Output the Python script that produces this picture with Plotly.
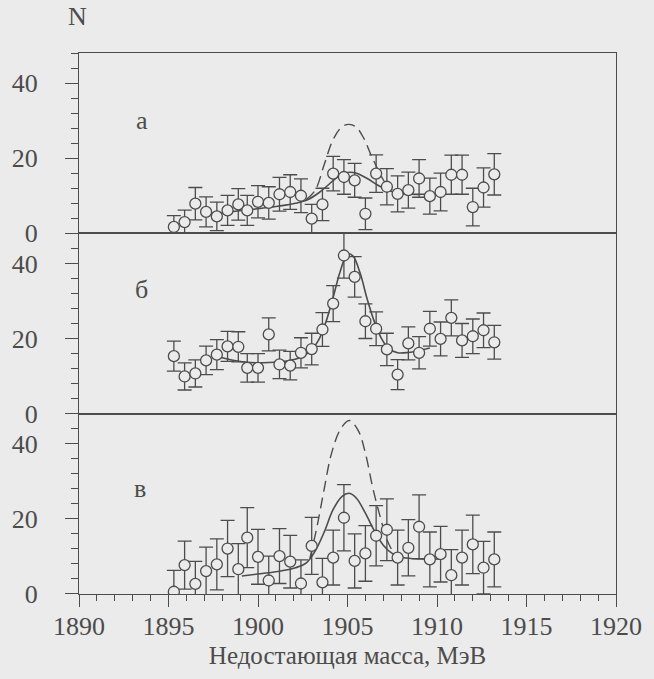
import plotly.graph_objects as go
from plotly.subplots import make_subplots

# ---------------- data ----------------
mass = [1895.3, 1895.9, 1896.5, 1897.1, 1897.7, 1898.3, 1898.9, 1899.4, 1900.0, 1900.6,
        1901.2, 1901.8, 1902.4, 1903.0, 1903.6, 1904.2, 1904.8, 1905.4, 1906.0, 1906.6,
        1907.2, 1907.8, 1908.4, 1909.0, 1909.6, 1910.2, 1910.8, 1911.4, 1912.0, 1912.6, 1913.2]

# panel "а"
counts_a = [1.7, 3.0, 7.9, 5.7, 4.5, 6.1, 7.7, 6.1, 8.4, 8.1,
            10.4, 11.0, 10.0, 3.9, 7.7, 15.9, 15.0, 14.1, 5.2, 15.9,
            12.4, 10.5, 11.5, 14.6, 9.9, 11.0, 15.6, 15.6, 7.0, 12.2, 15.7]
err_a = [3.0, 3.2, 4.3, 4.0, 3.8, 4.0, 4.2, 4.0, 4.3, 4.3,
         4.5, 4.6, 4.5, 3.8, 4.3, 4.6, 4.6, 4.5, 4.2, 5.0,
         4.8, 4.8, 4.8, 5.0, 4.8, 5.0, 5.2, 5.2, 5.0, 5.2, 5.5]
fit_a_x = [1897.1, 1898.1, 1899.1, 1900.1, 1901.1, 1902.1, 1902.8, 1903.4, 1904.0, 1904.5,
           1905.0, 1905.5, 1906.1, 1906.7, 1907.3, 1907.9, 1908.6, 1909.3, 1910.2]
fit_a_y = [4.8, 5.5, 6.1, 6.6, 7.2, 8.0, 9.0, 10.8, 13.2, 15.2,
           16.2, 16.0, 14.6, 12.8, 11.4, 10.7, 10.4, 10.4, 10.5]
dash_a_x = [1902.7, 1903.2, 1903.7, 1904.2, 1904.7, 1905.1, 1905.5, 1905.9, 1906.3, 1906.7, 1907.1, 1907.5]
dash_a_y = [9.0, 11.5, 18.3, 25.0, 28.4, 29.0, 28.2, 25.4, 21.0, 17.0, 13.5, 11.5]

# panel "б"
counts_b = [15.3, 9.9, 10.7, 14.2, 15.7, 17.9, 17.8, 12.2, 12.2, 21.1,
            13.1, 12.8, 16.2, 17.2, 22.4, 29.3, 42.1, 36.4, 24.6, 22.6,
            17.1, 10.4, 18.7, 16.2, 22.6, 19.9, 25.5, 19.5, 20.6, 22.2, 19.0]
err_b = [4.0, 3.6, 3.6, 3.8, 4.0, 4.0, 4.0, 3.8, 3.8, 4.4,
         3.8, 3.8, 4.0, 4.2, 4.5, 4.8, 6.0, 5.4, 4.6, 4.5,
         4.3, 4.0, 4.4, 4.3, 4.6, 4.5, 4.8, 4.5, 4.6, 4.6, 4.5]
fit_b_x = [1897.9, 1898.6, 1899.6, 1900.6, 1901.6, 1902.4, 1903.0, 1903.4, 1903.8, 1904.2,
           1904.6, 1905.0, 1905.3, 1905.7, 1906.1, 1906.5, 1906.9, 1907.3, 1907.8, 1908.4,
           1909.1, 1909.6]
fit_b_y = [15.0, 14.2, 13.6, 13.6, 14.0, 15.0, 17.0, 19.7, 24.5, 31.0,
           38.0, 42.5, 42.0, 37.5, 30.5, 24.5, 20.0, 17.3, 16.2, 16.3,
           16.9, 17.5]

# panel "в"
counts_c = [0.6, 7.7, 2.7, 6.1, 7.9, 12.1, 6.6, 15.0, 9.9, 3.6,
            10.1, 8.6, 2.8, 12.8, 3.1, 9.7, 20.3, 8.8, 10.8, 15.5,
            17.1, 9.7, 12.3, 17.9, 9.2, 10.6, 5.0, 9.7, 13.2, 7.0, 9.2]
err_c = [5.7, 6.4, 6.0, 6.4, 6.8, 7.5, 6.8, 8.0, 7.3, 6.5,
         7.3, 7.0, 6.3, 7.6, 6.4, 7.3, 8.8, 7.2, 7.4, 8.0,
         8.2, 7.3, 7.5, 8.5, 7.3, 7.4, 6.8, 7.3, 7.8, 7.0, 7.3]
fit_c_x = [1899.1, 1900.1, 1901.1, 1902.1, 1902.7, 1903.2, 1903.7, 1904.2, 1904.7, 1905.1,
           1905.5, 1906.0, 1906.5, 1907.0, 1907.5, 1908.1, 1909.1, 1910.2]
fit_c_y = [4.8, 5.4, 6.0, 7.0, 8.3, 11.5, 16.5, 22.5, 26.0, 26.8,
           25.5, 21.5, 16.8, 13.0, 10.8, 9.7, 9.3, 9.3]
dash_c_x = [1902.9, 1903.3, 1903.7, 1904.1, 1904.6, 1905.1, 1905.6, 1906.0, 1906.4, 1906.8, 1907.2, 1907.5]
dash_c_y = [9.5, 18.0, 28.0, 37.3, 43.8, 46.2, 43.5, 37.5, 28.5, 21.0, 14.5, 11.5]

panel_labels = ["а", "б", "в"]
x_ticks = [1890, 1895, 1900, 1905, 1910, 1915, 1920]

# ---------------- styling ----------------
BG = "#ebebeb"
INK = "#4c4c4c"
FONT = "Liberation Serif, Times New Roman, serif"

fig = make_subplots(rows=3, cols=1, shared_xaxes=True, vertical_spacing=0)

panels = [
    (counts_a, err_a, fit_a_x, fit_a_y, dash_a_x, dash_a_y),
    (counts_b, err_b, fit_b_x, fit_b_y, None, None),
    (counts_c, err_c, fit_c_x, fit_c_y, dash_c_x, dash_c_y),
]

for i, (cnt, err, fx, fy, dx, dy) in enumerate(panels, start=1):
    if dx is not None:
        fig.add_trace(go.Scatter(x=dx, y=dy, mode="lines", line_shape="spline",
                                 line=dict(color=INK, width=1.4, dash="11px,6px"),
                                 showlegend=False, hoverinfo="skip"), row=i, col=1)
    fig.add_trace(go.Scatter(x=fx, y=fy, mode="lines", line_shape="spline",
                             line=dict(color=INK, width=1.6),
                             showlegend=False, hoverinfo="skip"), row=i, col=1)
    fig.add_trace(go.Scatter(x=mass, y=cnt, mode="markers",
                             marker=dict(symbol="circle", size=11, color=BG,
                                         line=dict(color=INK, width=1.3)),
                             error_y=dict(type="data", array=err, visible=True,
                                          color=INK, thickness=1.3, width=7),
                             showlegend=False), row=i, col=1)

axis_common = dict(showline=True, mirror=True, linecolor=INK, linewidth=1.3,
                   showgrid=False, zeroline=False)

for i in range(1, 4):
    fig.update_yaxes(range=[0, 48], tick0=0, dtick=20, ticks="outside", ticklen=13,
                     tickwidth=1.2, tickcolor=INK, ticklabelstandoff=22,
                     minor=dict(ticks="outside", tick0=0, dtick=4, ticklen=7,
                                tickwidth=1.1, tickcolor=INK),
                     tickfont=dict(family=FONT, size=26, color=INK),
                     row=i, col=1, **axis_common)
    if i < 3:
        fig.update_xaxes(range=[1890, 1920], showticklabels=False, ticks="",
                         row=i, col=1, **axis_common)

fig.update_xaxes(range=[1890, 1920], tickvals=x_ticks, ticks="outside", ticklen=12,
                 tickwidth=1.2, tickcolor=INK, ticklabelstandoff=-3,
                 minor=dict(ticks="outside", dtick=1, ticklen=6, tickwidth=1.1, tickcolor=INK),
                 tickfont=dict(family=FONT, size=26, color=INK),
                 title=dict(text="Недостающая масса, МэВ", standoff=6,
                            font=dict(family=FONT, size=25, color=INK)),
                 row=3, col=1, **axis_common)

# panel labels
label_pos = [(1893.5, 30), (1893.5, 33), (1893.4, 28.2)]
for i, (lab, (lx, ly)) in enumerate(zip(panel_labels, label_pos), start=1):
    xr = "x" if i == 1 else f"x{i}"
    yr = "y" if i == 1 else f"y{i}"
    fig.add_annotation(x=lx, y=ly, xref=xr, yref=yr, text=lab, showarrow=False,
                       font=dict(family=FONT, size=26, color=INK))

fig.add_annotation(x=-0.003, y=1.0, xref="paper", yref="paper", yshift=37,
                   text="N", showarrow=False, xanchor="center", yanchor="middle",
                   font=dict(family=FONT, size=26, color=INK))

fig.update_layout(width=654, height=679, paper_bgcolor=BG, plot_bgcolor=BG,
                  margin=dict(l=73, r=36, t=53, b=85), showlegend=False)

fig.write_html("out.html", config={"displayModeBar": False},
               post_script="document.body.style.margin='0';document.body.style.overflow='hidden';document.body.style.background='#ebebeb';")
